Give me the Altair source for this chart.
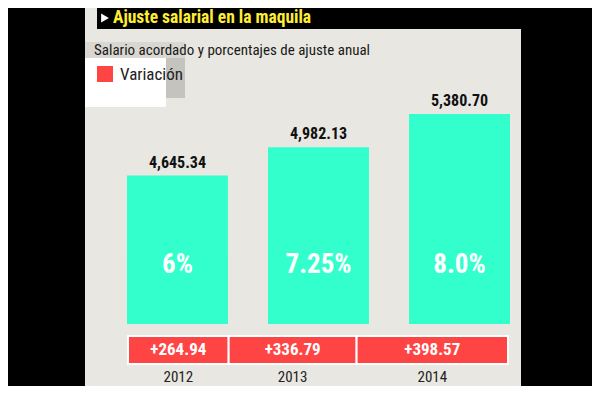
import altair as alt
import pandas as pd

# ---- data ----
years = ["2012", "2013", "2014"]
salaries = [4645.34, 4982.13, 5380.70]
salary_labels = ["4,645.34", "4,982.13", "5,380.70"]
pct_labels = ["6%", "7.25%", "8.0%"]
variations = [264.94, 336.79, 398.57]
variation_labels = ["+264.94", "+336.79", "+398.57"]

title_text = "Ajuste salarial en la maquila"
subtitle_text = "Salario acordado y porcentajes de ajuste anual"
legend_text = "Variación"

df = pd.DataFrame({
    "year": years,
    "salary": salaries,
    "salary_label": salary_labels,
    "pct": pct_labels,
    "variation": variations,
    "variation_label": variation_labels,
})

FONT = "'Roboto Condensed', 'Liberation Sans Narrow', 'DejaVu Sans Condensed', 'Arial Narrow', sans-serif"
PANEL = "#e8e7e1"
TURQ = "#33ffcc"
RED = "#ff4444"
YELLOW = "#ffee33"

one = alt.Data(values=[{}])


def rect(x, x2, y, y2, color):
    return alt.Chart(one).mark_rect(color=color).encode(
        x=alt.value(x), x2=alt.value(x2), y=alt.value(y), y2=alt.value(y2)
    )


def label(text, x, y, size, color, weight="normal"):
    return alt.Chart(one).mark_text(
        text=text, align="left", baseline="middle", fontSize=size,
        color=color, fontWeight=weight, font=FONT
    ).encode(x=alt.value(x), y=alt.value(y))


decor = [
    rect(77, 513, 0, 378, PANEL),
    rect(89, 584, 0, 21, "#000000"),
    rect(77, 177, 34, 90, "#d8d7d2"),
    rect(158, 177, 50, 90, "#c4c3be"),
    rect(77, 158, 50, 99, "#ffffff"),
    rect(89, 105, 58, 74, RED),
    alt.Chart(one).mark_point(shape="triangle-right", filled=True, color="white",
                               size=80, opacity=1).encode(x=alt.value(97), y=alt.value(10)),
    label(title_text, 105, 10, 17.5, YELLOW, "bold"),
    label(subtitle_text, 86, 42, 15, "#1a1a1a"),
    label(legend_text, 112, 67, 17, "#222222"),
]

base = alt.Chart(df)

xb = alt.X("year:N", axis=None,
           scale=alt.Scale(range=[119, 502], paddingInner=0.284, paddingOuter=0))
yb = alt.Y("salary:Q", axis=None,
           scale=alt.Scale(domain=[2877, 6643], range=[316, 0]))

bars = base.mark_bar(color=TURQ).encode(x=xb, y=yb, y2=alt.datum(2877))
sal_text = base.mark_text(baseline="bottom", dy=-5, fontSize=16, fontWeight="bold",
                          color="#111111", font=FONT).encode(x=xb, y=yb, text="salary_label:N")
pct_text = base.mark_text(baseline="middle", fontSize=27, fontWeight="bold",
                          color="white", font=FONT).encode(x=xb, y=alt.value(257), text="pct:N")
layer_a = alt.layer(bars, sal_text, pct_text)

strip = base.transform_window(
    cum="sum(variation)", sort=[alt.SortField("year")]
).transform_calculate(
    start="datum.cum - datum.variation",
    mid="datum.cum - datum.variation / 2",
)
xs_scale = alt.Scale(domain=[0, 1000.3], range=[120, 500])
red = strip.mark_rect(color=RED, stroke="white", strokeWidth=2).encode(
    x=alt.X("start:Q", axis=None, scale=xs_scale), x2="cum:Q",
    y=alt.value(328), y2=alt.value(356),
)
red_text = strip.mark_text(baseline="middle", fontSize=17, fontWeight="bold",
                           color="white", font=FONT).encode(
    x=alt.X("mid:Q", axis=None, scale=xs_scale), y=alt.value(342), text="variation_label:N"
)
year_text = strip.mark_text(baseline="middle", fontSize=15, color="#222222", font=FONT).encode(
    x=alt.X("mid:Q", axis=None, scale=xs_scale), y=alt.value(369), text="year:N"
)
layer_b = alt.layer(red, red_text, year_text)

chart = alt.layer(*decor, layer_a, layer_b).resolve_scale(
    x="independent", y="independent"
).properties(
    width=584, height=378,
    autosize=alt.AutoSizeParams(type="fit", contains="padding"),
    padding=0, background="#000000",
).configure_view(strokeOpacity=0)

chart.save("out.html", embed_options={"renderer": "svg", "actions": False})
